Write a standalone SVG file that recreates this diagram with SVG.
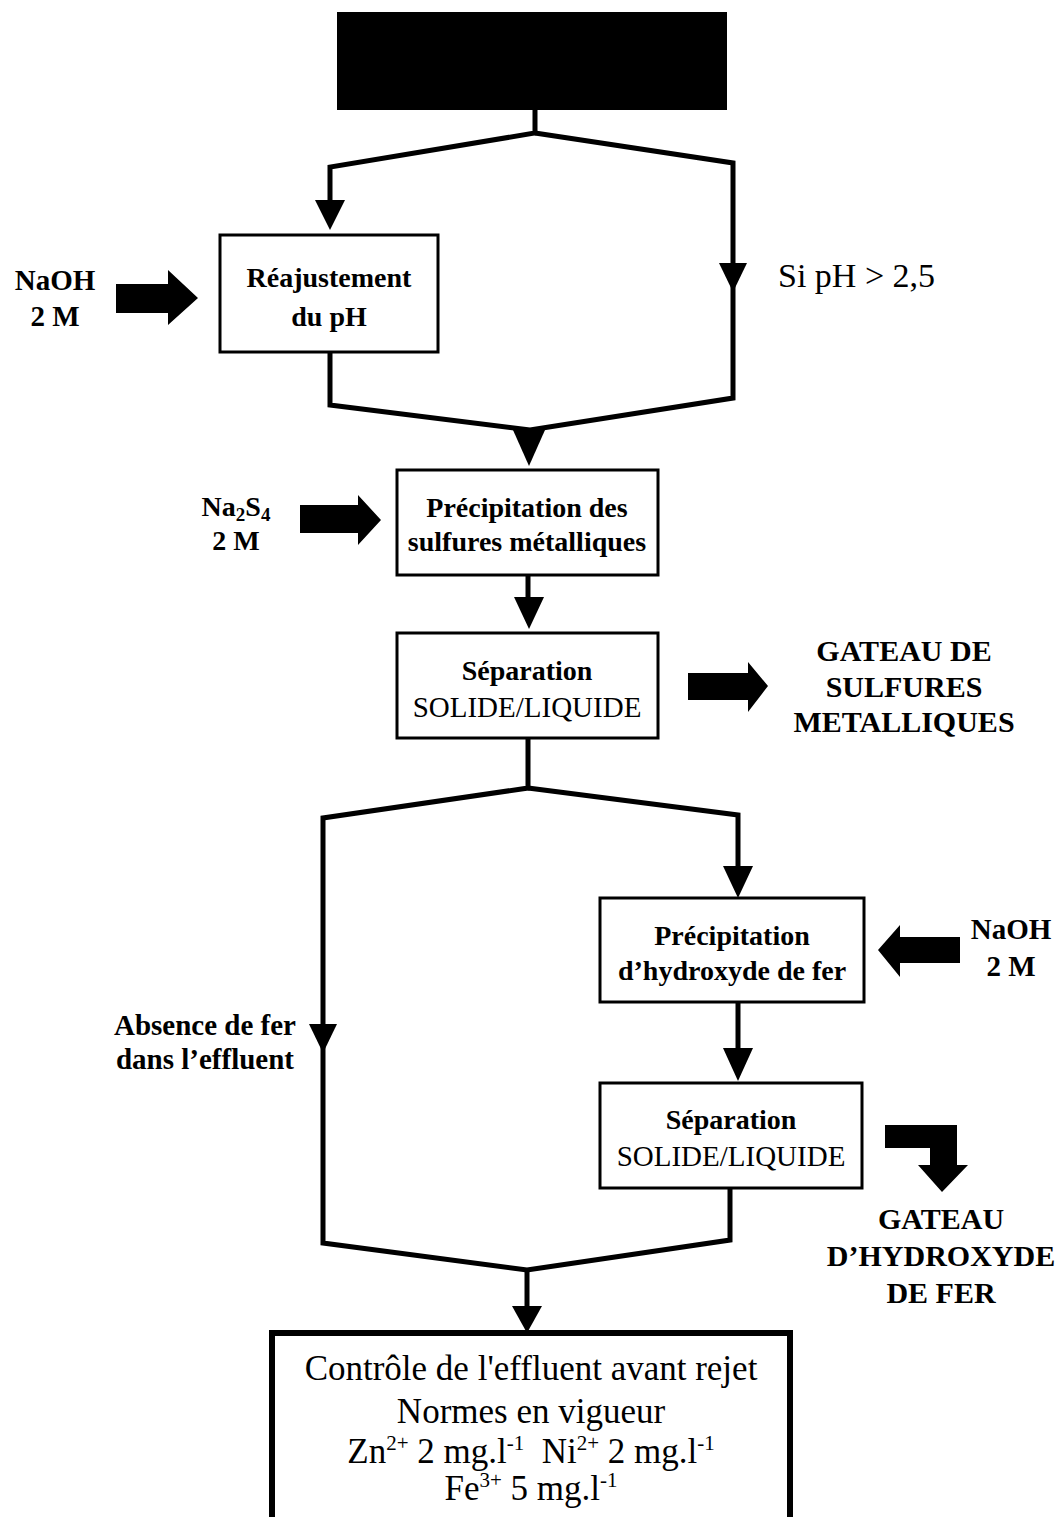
<svg xmlns="http://www.w3.org/2000/svg" width="1064" height="1517" viewBox="0 0 1064 1517">
<style>
.box{fill:#fff;stroke:#000;stroke-width:3}
.ln{fill:none;stroke:#000;stroke-width:5;stroke-linejoin:miter}
.ah{fill:#000}
.b{font-family:"Liberation Serif","Times New Roman",serif;font-weight:bold;font-size:28px;fill:#000;text-anchor:middle}
.s{font-size:29px}
.g{font-size:30px}
.r{font-family:"Liberation Serif","Times New Roman",serif;font-size:29px;fill:#000;text-anchor:middle}
.big{font-family:"Liberation Serif","Times New Roman",serif;font-size:35px;fill:#000;text-anchor:middle}
</style>
<rect width="1064" height="1517" fill="#fff"/>
<g id="connectors">
<path class="ln" d="M535,110 V133 L330,167 V205"/>
<path class="ln" d="M535,133 L733,163 V398 L530,430 L330,405 V352"/>
<polygon class="ah" points="315,200 345,200 330,230"/>
<polygon class="ah" points="719,263 747,263 733,292"/>
<polygon class="ah" points="513,430 545,430 529,466"/>
<path class="ln" d="M528,575 V600"/>
<polygon class="ah" points="514,597 544,597 529,629"/>
<path class="ln" d="M528,738 V788 L323,818 V1243 L527,1270 L730,1240 V1188"/>
<path class="ln" d="M528,788 L738,815 V870"/>
<polygon class="ah" points="723,866 753,866 738,898"/>
<polygon class="ah" points="309,1024 337,1024 323,1053"/>
<path class="ln" d="M738,1002 V1052"/>
<polygon class="ah" points="723,1048 753,1048 738,1081"/>
<path class="ln" d="M527,1270 V1310"/>
<polygon class="ah" points="512,1306 542,1306 527,1333"/>
</g>
<g id="n_source"><rect x="337" y="12" width="390" height="98" fill="#000"/></g>
<g id="n_reaj">
<rect class="box" x="220" y="235" width="218" height="117"/>
<text class="b" x="329" y="287">Réajustement</text>
<text class="b" x="329" y="326">du pH</text>
</g>
<g id="n_naoh1">
<text class="b s" x="55" y="290">NaOH</text>
<text class="b s" x="55" y="326">2 M</text>
<polygon class="ah" points="116,284 168,284 168,270 198,298 168,325 168,313 116,313"/>
</g>
<g id="n_ph">
<text class="r" x="778" y="287" style="text-anchor:start;font-size:34px">Si pH &gt; 2,5</text>
</g>
<g id="n_precip1">
<rect class="box" x="397" y="470" width="261" height="105"/>
<text class="b" x="527" y="517">Précipitation des</text>
<text class="b" x="527" y="551">sulfures métalliques</text>
</g>
<g id="n_na2s4">
<text class="b" x="236" y="516">Na<tspan font-size="19" dy="5">2</tspan><tspan dy="-5">S</tspan><tspan font-size="19" dy="5">4</tspan></text>
<text class="b" x="236" y="550">2 M</text>
<polygon class="ah" points="300,505 358,505 358,495 381,520 358,545 358,533 300,533"/>
</g>
<g id="n_sep1">
<rect class="box" x="397" y="633" width="261" height="105"/>
<text class="b" x="527" y="680">Séparation</text>
<text class="r" x="527" y="717">SOLIDE/LIQUIDE</text>
</g>
<g id="n_gateau1">
<polygon class="ah" points="688,673 748,673 748,662 768,686 748,712 748,700 688,700"/>
<text class="b g" x="904" y="661">GATEAU DE</text>
<text class="b g" x="904" y="697">SULFURES</text>
<text class="b g" x="904" y="732">METALLIQUES</text>
</g>
<g id="n_precip2">
<rect class="box" x="600" y="898" width="264" height="104"/>
<text class="b" x="732" y="945">Précipitation</text>
<text class="b" x="732" y="980">d’hydroxyde de fer</text>
</g>
<g id="n_naoh2">
<polygon class="ah" points="878,950 900,925 900,937 960,937 960,963 900,963 900,977"/>
<text class="b s" x="1011" y="939">NaOH</text>
<text class="b s" x="1011" y="976">2 M</text>
</g>
<g id="n_absence">
<text class="b s" x="205" y="1035">Absence de fer</text>
<text class="b s" x="205" y="1069">dans l’effluent</text>
</g>
<g id="n_sep2">
<rect class="box" x="600" y="1083" width="262" height="105"/>
<text class="b" x="731" y="1129">Séparation</text>
<text class="r" x="731" y="1166">SOLIDE/LIQUIDE</text>
</g>
<g id="n_gateau2">
<polygon class="ah" points="885,1125 957,1125 957,1165 968,1165 942,1192 918,1165 930,1165 930,1148 885,1148"/>
<text class="b g" x="941" y="1229">GATEAU</text>
<text class="b g" x="941" y="1266">D’HYDROXYDE</text>
<text class="b g" x="941" y="1303">DE FER</text>
</g>
<g id="n_controle">
<rect x="272" y="1333" width="518" height="200" fill="#fff" stroke="#000" stroke-width="6"/>
<text class="big" x="531" y="1380">Contrôle de l'effluent avant rejet</text>
<text class="big" x="531" y="1423">Normes en vigueur</text>
<text class="big" x="531" y="1463">Zn<tspan font-size="21" dy="-13">2+</tspan><tspan dy="13"> 2 mg.l</tspan><tspan font-size="21" dy="-13">-1</tspan><tspan dy="13">&#160; Ni</tspan><tspan font-size="21" dy="-13">2+</tspan><tspan dy="13"> 2 mg.l</tspan><tspan font-size="21" dy="-13">-1</tspan></text>
<text class="big" x="531" y="1500">Fe<tspan font-size="21" dy="-13">3+</tspan><tspan dy="13"> 5 mg.l</tspan><tspan font-size="21" dy="-13">-1</tspan></text>
</g>
</svg>
